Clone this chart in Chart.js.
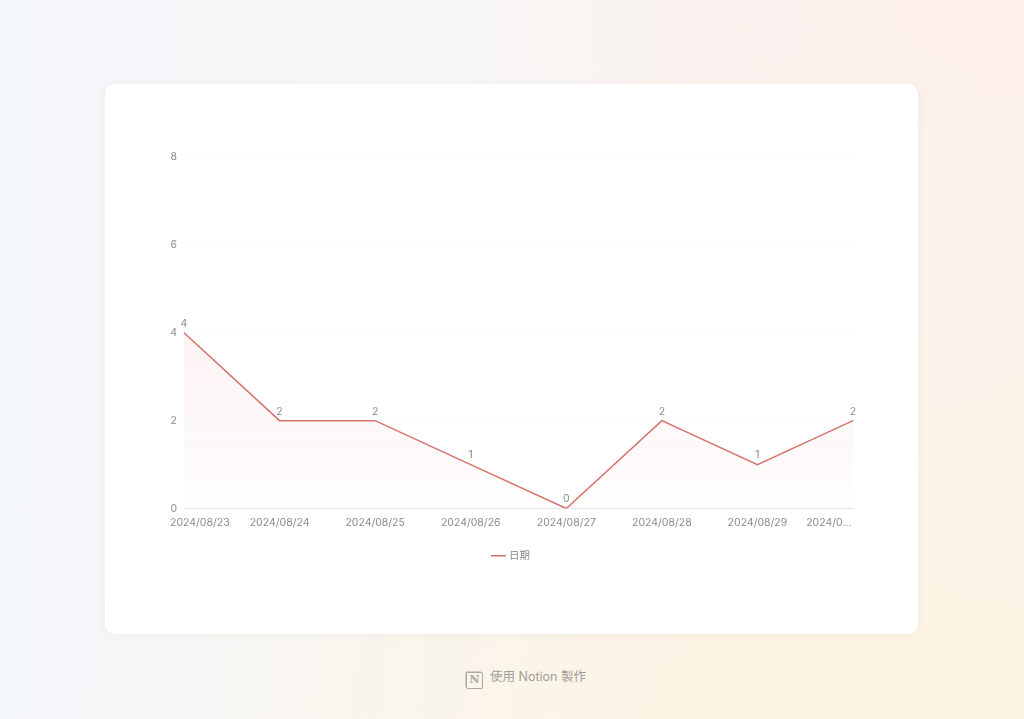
<!DOCTYPE html>
<html>
<head>
<meta charset="utf-8">
<script src="https://cdn.jsdelivr.net/npm/chart.js@4/dist/chart.umd.min.js"></script>
<style>
  html, body { margin: 0; padding: 0; }
  body {
    width: 1024px; height: 719px; overflow: hidden; position: relative;
    font-family: Inter, "Noto Sans", "Noto Sans CJK TC", sans-serif;
    background:
      radial-gradient(ellipse 560px 360px at 1000px 0px, rgba(253,238,236,0.85), rgba(253,238,236,0) 100%),
      radial-gradient(ellipse 760px 480px at 800px 719px, rgba(253,243,226,1), rgba(253,243,226,0) 100%),
      linear-gradient(90deg, #f3f6fa 0%, #f7f7f6 45%, #fcf4ec 100%);
  }
  .card {
    position: absolute; left: 105px; top: 84px; width: 813px; height: 550px;
    background: #fff; border-radius: 10px;
    box-shadow: 0 1px 8px rgba(60,50,40,0.05);
  }
  canvas { position: absolute; left: 0; top: 0; }
  .foot {
    position: absolute; left: 466px; top: 667px; white-space: nowrap;
    color: #a09d98; font-size: 12.5px; line-height: 20px;
  }
  .logo {
    display: inline-block; width: 17px; height: 17px; border: 1.5px solid #aaa7a2; border-radius: 2px;
    font-family: "DejaVu Serif", serif; font-size: 11px; line-height: 14px; font-weight: bold;
    color: #aaa7a2; vertical-align: -2px; margin-right: 7px; box-sizing: border-box; text-align: center;
    box-shadow: -1px -1px 0 #d3d0cb;
  }
</style>
</head>
<body>
<div class="card"><canvas id="c" width="813" height="550"></canvas></div>
<div class="foot"><span class="logo">N</span>使用 Notion 製作</div>
<script>
const categories = ['2024/08/23', '2024/08/24', '2024/08/25', '2024/08/26', '2024/08/27', '2024/08/28', '2024/08/29', '2024/08/30'];
const counts = [4, 2, 2, 1, 0, 2, 1, 2];
const yTicks = [0, 2, 4, 6, 8];
const seriesName = '日期';

const lineColor = 'rgb(214,114,108)';
const textColor = '#8c8a87';
const FONT = 'Inter, "Noto Sans", "Noto Sans CJK TC", sans-serif';
const FSIZE = 10.5;

const labelsPlugin = {
  id: 'labelsPlugin',
  afterDatasetsDraw(chart) {
    const ctx = chart.ctx;
    const meta = chart.getDatasetMeta(0);
    ctx.save();
    ctx.font = FSIZE + 'px ' + FONT;
    ctx.fillStyle = textColor;
    ctx.textAlign = 'center';
    ctx.textBaseline = 'bottom';
    meta.data.forEach((pt, i) => {
      ctx.fillText(String(counts[i]), pt.x, pt.y - 4);
    });
    // x labels, clamped to the card like the original
    const xs = chart.scales.x;
    const area = chart.chartArea;
    ctx.textBaseline = 'middle';
    const yLab = area.bottom + 14;
    const n = categories.length;
    const step = xs.getPixelForTick(1) - xs.getPixelForTick(0);
    categories.forEach((lab, i) => {
      const x = xs.getPixelForTick(i);
      const w = ctx.measureText(lab).width;
      if (i === 0) {
        ctx.textAlign = 'left';
        ctx.fillText(lab, Math.max(65, x - w / 2), yLab);
      } else if (i === n - 1) {
        const left = x - step / 2 + 1;
        const avail = area.right - left;
        let t = lab;
        if (w > avail) {
          while (t.length > 1 && ctx.measureText(t + '...').width > avail) t = t.slice(0, -1);
          t = t + '...';
        }
        ctx.textAlign = 'left';
        ctx.fillText(t, left, yLab);
      } else {
        ctx.textAlign = 'center';
        ctx.fillText(lab, x, yLab);
      }
    });
    ctx.restore();
  }
};

const ctx = document.getElementById('c').getContext('2d');
new Chart(ctx, {
  type: 'line',
  data: {
    labels: categories,
    datasets: [{
      label: seriesName,
      data: counts,
      borderColor: lineColor,
      borderWidth: 1.5,
      pointRadius: 0,
      pointHoverRadius: 0,
      tension: 0,
      fill: 'origin',
      backgroundColor: (c) => {
        const a = c.chart.chartArea;
        if (!a) return 'rgba(224,110,104,0.08)';
        const g = c.chart.ctx.createLinearGradient(0, a.top, 0, a.bottom);
        g.addColorStop(0, 'rgba(224,110,104,0.14)');
        g.addColorStop(1, 'rgba(224,110,104,0.015)');
        return g;
      }
    }]
  },
  options: {
    responsive: false,
    animation: false,
    layout: { padding: { top: 73, right: 0, bottom: 63, left: 0 } },
    plugins: {
      tooltip: { enabled: false },
      legend: {
        position: 'bottom',
        labels: {
          usePointStyle: true,
          pointStyle: 'line',
          boxWidth: 14,
          color: textColor,
          padding: 10,
          font: { size: FSIZE, family: FONT }
        }
      }
    },
    scales: {
      x: {
        offset: false,
        grid: { display: false, drawTicks: false },
        border: { display: true, color: '#e6e6e6', width: 1 },
        ticks: { color: 'rgba(0,0,0,0)', padding: 8, autoSkip: false, maxRotation: 0, font: { size: FSIZE, family: FONT } },
        afterFit: (s) => { s.height = 32; }
      },
      y: {
        min: 0,
        max: 8,
        afterBuildTicks: (s) => { s.ticks = yTicks.map(v => ({ value: v })); },
        grid: {
          drawTicks: false,
          color: (c) => c.tick && c.tick.value === 0 ? 'rgba(0,0,0,0)' : '#ebebeb',
          lineWidth: 1
        },
        border: { display: false, dash: [1, 3] },
        ticks: { color: textColor, padding: 7, font: { size: FSIZE, family: FONT } },
        afterFit: (s) => { s.width = 79; }
      },
      // empty right-hand axis, keeps the right margin so the legend stays centred on the card
      yR: {
        position: 'right',
        min: 0,
        max: 8,
        grid: { display: false, drawTicks: false },
        border: { display: false },
        ticks: { color: 'rgba(0,0,0,0)' },
        afterFit: (s) => { s.width = 65; }
      }
    }
  },
  plugins: [labelsPlugin]
});
</script>
</body>
</html>
